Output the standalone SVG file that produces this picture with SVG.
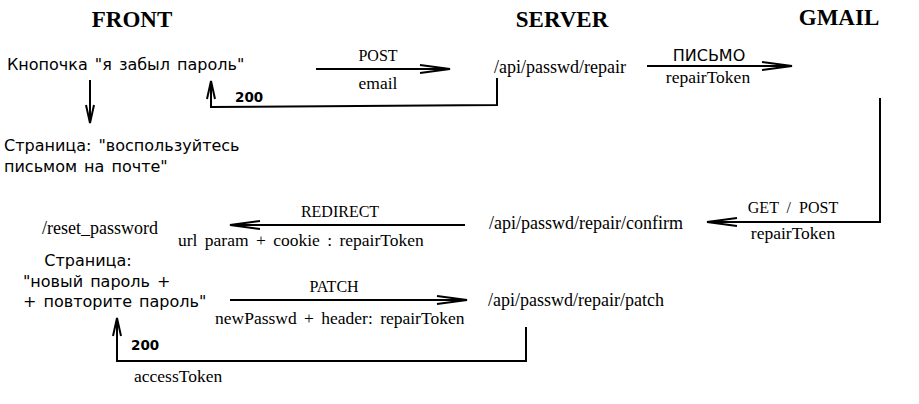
<svg xmlns="http://www.w3.org/2000/svg" width="919" height="404" viewBox="0 0 919 404">
<style>
.h{font-family:"Liberation Serif",serif;font-weight:bold;font-size:23px;fill:#000}
.s{font-family:"DejaVu Sans",sans-serif;font-size:16px;fill:#000;word-spacing:2px}
.n{font-family:"Liberation Serif",serif;font-size:18px;fill:#000}
.l{font-family:"Liberation Serif",serif;font-size:17.5px;fill:#000;word-spacing:3px}
.c{font-family:"Liberation Serif",serif;font-size:16px;fill:#000;word-spacing:4px}
.b{font-family:"DejaVu Sans",sans-serif;font-weight:bold;font-size:13.5px;fill:#000}
.w{fill:none;stroke:#000;stroke-width:2}
</style>
<defs>
<marker id="ah" markerUnits="userSpaceOnUse" markerWidth="40" markerHeight="14" viewBox="-32 -7 34 14" refX="0" refY="0" orient="auto">
<path d="M-30,-4 L0,0 L-30,4" fill="none" stroke="#000" stroke-width="2"/>
</marker>
<marker id="av" markerUnits="userSpaceOnUse" markerWidth="24" markerHeight="14" viewBox="-20 -7 22 14" refX="0" refY="0" orient="auto">
<path d="M-18,-4 L0,0 L-18,4" fill="none" stroke="#000" stroke-width="2"/>
</marker>
</defs>
<g id="headers">
<text class="h" x="132" y="27" text-anchor="middle">FRONT</text>
<text class="h" x="562" y="27" text-anchor="middle">SERVER</text>
<text class="h" x="839" y="25" text-anchor="middle">GMAIL</text>
</g>
<g id="btn-forgot"><text class="s" x="7" y="70">Кнопочка "я забыл пароль"</text></g>
<g id="page-check-mail"><text class="s" x="4" y="151">Страница: "воспользуйтесь</text><text class="s" x="4" y="172">письмом на почте"</text></g>
<g id="api-repair"><text class="n" x="494" y="73">/api/passwd/repair</text></g>
<g id="api-confirm"><text class="n" x="489" y="229">/api/passwd/repair/confirm</text></g>
<g id="reset-password"><text class="n" x="42" y="234">/reset_password</text></g>
<g id="page-new-pass">
<text class="s" x="88" y="266" text-anchor="middle">Страница:</text>
<text class="s" x="23" y="287">"новый пароль +</text>
<text class="s" x="23" y="307">+ повторите пароль"</text>
</g>
<g id="api-patch"><text class="n" x="488" y="306">/api/passwd/repair/patch</text></g>
<g id="connectors">
<line class="w" x1="90" y1="80" x2="90" y2="123" marker-end="url(#av)"/>
<line class="w" x1="316" y1="69" x2="450" y2="69" marker-end="url(#ah)"/>
<text class="c" x="378" y="61" text-anchor="middle">POST</text>
<text class="l" x="378" y="89" text-anchor="middle">email</text>
<polyline class="w" points="497,78 497,105 211,107 211,81" marker-end="url(#av)"/>
<text class="b" x="235" y="102">200</text>
<line class="w" x1="647" y1="66" x2="792" y2="66" marker-end="url(#ah)"/>
<text class="s" x="709" y="61" text-anchor="middle">ПИСЬМО</text>
<text class="l" x="708" y="83" text-anchor="middle">repairToken</text>
<polyline class="w" points="880,98 880,222 707,222" marker-end="url(#ah)"/>
<text class="c" x="793" y="213" text-anchor="middle">GET / POST</text>
<text class="l" x="793" y="239" text-anchor="middle">repairToken</text>
<line class="w" x1="465" y1="225" x2="230" y2="225" marker-end="url(#ah)"/>
<text class="c" x="340" y="217" text-anchor="middle">REDIRECT</text>
<text class="l" x="178" y="246">url param + cookie : repairToken</text>
<line class="w" x1="230" y1="300" x2="467" y2="300" marker-end="url(#ah)"/>
<text class="c" x="334" y="292" text-anchor="middle">PATCH</text>
<text class="l" x="215" y="324">newPasswd + header: repairToken</text>
<polyline class="w" points="526,327 526,361 117,361 117,318" marker-end="url(#av)"/>
<text class="b" x="131" y="350">200</text>
<text class="l" x="134" y="382">accessToken</text>
</g>
</svg>
